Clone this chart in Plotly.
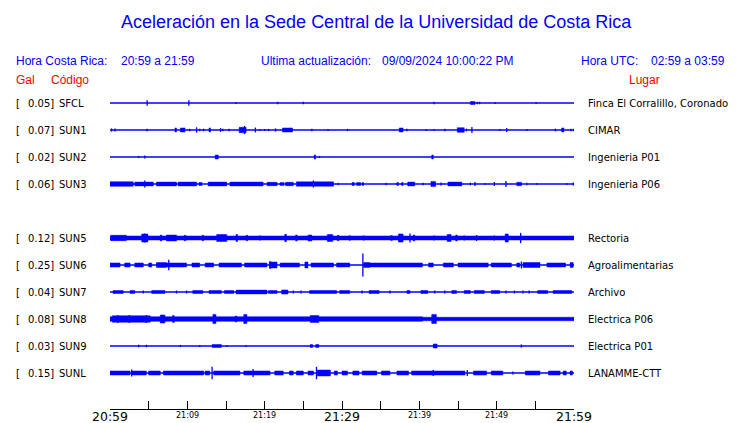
import plotly.graph_objects as go

# page body has an 8px margin; figure is sized to the visible area
OFF = 8
W, H = 740 - OFF, 423 - OFF

# ---------------- data ----------------
codes = ["SFCL", "SUN1", "SUN2", "SUN3", "SUN5", "SUN6", "SUN7", "SUN8", "SUN9", "SUNL"]
rows = [0, 1, 2, 3, 5, 6, 7, 8, 9, 10]
gal = ["0.05", "0.07", "0.02", "0.06", "0.12", "0.25", "0.04", "0.08", "0.03", "0.15"]
places = ["Finca El Corralillo, Coronado", "CIMAR", "Ingenieria P01", "Ingenieria P06",
          "Rectoria", "Agroalimentarias", "Archivo", "Electrica P06", "Electrica P01", "LANAMME-CTT"]

tick_minutes = [0, 5, 10, 15, 20, 25, 30, 35, 40, 45, 50, 55, 60]
label_minutes = [0, 10, 20, 30, 40, 50, 60]
label_texts = ["20:59", "21:09", "21:19", "21:29", "21:39", "21:49", "21:59"]
large_labels = ["20:59", "21:29", "21:59"]

# relative amplitudes (fraction of trace spacing); bands = (start min, end min, half-amp)
sfcl_bands = [(46.6, 47.2, 0.055)]
sfcl_spikes = [(4.8, 0.1), (10.2, 0.1), (16.3, 0.04), (21.7, 0.05), (25.0, 0.05), (41.9, 0.05),
               (47.5, 0.05), (47.8, 0.05), (49.8, 0.04), (55.1, 0.04)]

sun1_bands = [(8.4, 8.6, 0.075), (9.1, 9.7, 0.075), (12.8, 13.0, 0.075), (16.7, 17.6, 0.1),
              (22.3, 23.6, 0.075), (37.4, 37.9, 0.075), (44.9, 45.8, 0.085), (58.4, 58.7, 0.075)]
sun1_spikes = [(0.2, 0.06), (0.65, 0.06), (4.8, 0.05), (10.3, 0.05), (11.2, 0.1), (11.6, 0.05),
               (12.1, 0.05), (14.3, 0.07), (14.6, 0.05), (15.4, 0.05), (17.4, 0.15), (18.8, 0.09),
               (19.4, 0.04), (20.0, 0.04), (20.5, 0.04), (21.4, 0.06), (26.1, 0.05), (28.2, 0.04),
               (30.7, 0.04), (38.4, 0.05), (40.9, 0.04), (41.9, 0.04), (43.3, 0.05), (46.1, 0.05),
               (46.8, 0.11), (50.4, 0.04), (51.3, 0.07), (53.9, 0.04), (57.6, 0.05), (59.6, 0.05),
               (59.95, 0.05)]

sun2_bands = [(13.6, 14.0, 0.075), (26.4, 26.6, 0.075), (41.6, 41.8, 0.075)]
sun2_spikes = [(3.7, 0.04), (4.5, 0.055), (27.1, 0.04)]

sun3_bands = [(0, 3.0, 0.085), (3.2, 5.6, 0.07), (6.0, 8.6, 0.07), (8.8, 11.2, 0.07),
              (11.5, 11.9, 0.055), (12.7, 15.1, 0.07), (15.5, 19.8, 0.07), (20.3, 21.6, 0.065),
              (22.0, 22.5, 0.055), (22.7, 23.7, 0.065), (24.1, 28.9, 0.08), (31.3, 31.6, 0.055),
              (31.9, 32.4, 0.055), (32.6, 32.8, 0.055), (37.1, 37.3, 0.055), (37.7, 37.9, 0.055),
              (38.5, 39.4, 0.07), (41.5, 42.1, 0.095), (43.7, 45.5, 0.07), (52.6, 53.2, 0.065)]
sun3_spikes = [(4.5, 0.13), (26.3, 0.13), (29.5, 0.05), (35.7, 0.05), (40.5, 0.05), (42.8, 0.06),
               (46.6, 0.05), (47.2, 0.07), (48.5, 0.04), (49.7, 0.07), (51.2, 0.11), (53.9, 0.05),
               (55.2, 0.04), (59.1, 0.04), (59.9, 0.06)]

sun5_bands = [(0, 60, 0.075), (0.1, 2.1, 0.1), (4.1, 4.9, 0.15), (6.5, 6.7, 0.11), (7.3, 8.6, 0.11),
              (9.6, 9.8, 0.1), (11.9, 12.1, 0.1), (13.8, 15.1, 0.13), (16.3, 16.5, 0.13),
              (17.6, 17.8, 0.1), (22.6, 22.8, 0.13), (24.0, 24.2, 0.11), (25.6, 26.1, 0.11),
              (28.1, 28.8, 0.13), (29.4, 29.6, 0.1), (36.3, 36.5, 0.09), (37.3, 37.9, 0.15),
              (39.2, 39.4, 0.11), (43.6, 44.1, 0.13), (44.7, 44.9, 0.11), (51.1, 51.5, 0.15)]
sun5_spikes = [(4.5, 0.17), (38.8, 0.17), (53.1, 0.19), (31.0, 0.1), (32.8, 0.09), (19.4, 0.09),
               (41.9, 0.09), (45.8, 0.09), (47.4, 0.11), (49.7, 0.09), (22.7, 0.15)]

sun6_bands = [(0, 1.3, 0.075), (1.9, 2.6, 0.075), (3.2, 4.3, 0.075), (5.0, 5.4, 0.075),
              (6.0, 7.3, 0.09), (7.3, 9.9, 0.075), (10.6, 11.6, 0.075), (12.3, 13.4, 0.075),
              (14.1, 17.0, 0.075), (17.4, 20.3, 0.075), (20.6, 21.6, 0.11), (22.0, 24.5, 0.075),
              (25.2, 25.6, 0.11), (26.0, 28.9, 0.075), (29.3, 31.0, 0.075), (32.8, 33.6, 0.09),
              (33.6, 40.4, 0.075), (41.2, 41.8, 0.075), (43.1, 44.4, 0.075), (45.0, 48.9, 0.075),
              (49.3, 51.9, 0.075), (52.6, 53.0, 0.075), (53.4, 55.6, 0.09), (56.5, 58.9, 0.075),
              (59.5, 59.9, 0.09)]
sun6_spikes = [(7.6, 0.19), (20.7, 0.15), (32.7, 0.43), (53.2, 0.13)]

sun7_bands = [(0.4, 1.7, 0.055), (2.6, 3.2, 0.055), (5.4, 7.1, 0.055), (10.7, 12.0, 0.055),
              (12.8, 14.4, 0.055), (14.8, 16.0, 0.055), (16.3, 20.3, 0.07), (20.5, 21.6, 0.055),
              (22.2, 23.0, 0.075), (25.8, 29.3, 0.055), (29.7, 31.0, 0.055), (33.5, 34.8, 0.055),
              (38.4, 38.8, 0.055), (40.2, 41.1, 0.055), (44.2, 44.8, 0.055), (45.8, 46.6, 0.055),
              (47.1, 48.4, 0.055), (49.3, 50.4, 0.055), (55.3, 56.6, 0.055), (57.3, 59.7, 0.055)]
sun7_spikes = [(4.3, 0.055), (8.6, 0.055), (9.9, 0.055), (23.7, 0.055), (24.7, 0.055), (32.6, 0.055),
               (36.2, 0.055), (42.0, 0.055), (43.3, 0.055), (51.2, 0.055), (52.3, 0.055),
               (53.4, 0.055), (54.2, 0.055)]

sun8_bands = [(0, 40.4, 0.085), (40.4, 60, 0.065), (0.3, 5.2, 0.12), (6.5, 7.1, 0.15),
              (8.1, 8.3, 0.13), (13.3, 13.7, 0.17), (16.2, 16.4, 0.11), (17.3, 17.7, 0.17),
              (25.9, 27.0, 0.13), (41.6, 42.2, 0.17)]
sun8_spikes = [(1.0, 0.15), (2.5, 0.15), (4.7, 0.15)]

sun9_bands = [(13.2, 14.4, 0.055), (25.9, 26.2, 0.055), (26.6, 27.0, 0.055), (41.8, 42.3, 0.075)]
sun9_spikes = [(3.7, 0.05), (4.7, 0.05), (9.1, 0.04), (11.6, 0.04), (15.1, 0.04), (17.6, 0.04),
               (53.2, 0.06)]

sunl_bands = [(0, 2.6, 0.075), (2.8, 4.7, 0.075), (5.0, 6.5, 0.075), (6.9, 12.1, 0.075),
              (12.3, 12.9, 0.075), (13.4, 16.8, 0.075), (17.3, 20.7, 0.075), (21.3, 22.4, 0.075),
              (23.2, 23.7, 0.075), (24.1, 25.0, 0.075), (25.6, 26.3, 0.075), (26.8, 28.5, 0.11),
              (29.0, 29.4, 0.075), (30.0, 30.7, 0.075), (31.4, 32.2, 0.075), (32.6, 34.5, 0.075),
              (35.1, 36.2, 0.075), (37.1, 38.6, 0.075), (39.0, 45.9, 0.075), (47.0, 48.7, 0.075),
              (49.3, 50.8, 0.075), (53.7, 55.6, 0.075), (56.7, 58.2, 0.075), (58.6, 59.0, 0.075),
              (59.5, 59.8, 0.075)]
sunl_spikes = [(2.8, 0.13), (13.2, 0.23), (18.5, 0.15), (26.7, 0.23), (41.8, 0.11), (46.2, 0.11),
               (52.1, 0.055)]

all_bands = [sfcl_bands, sun1_bands, sun2_bands, sun3_bands, sun5_bands, sun6_bands,
             sun7_bands, sun8_bands, sun9_bands, sunl_bands]
all_spikes = [sfcl_spikes, sun1_spikes, sun2_spikes, sun3_spikes, sun5_spikes, sun6_spikes,
              sun7_spikes, sun8_spikes, sun9_spikes, sunl_spikes]


def px(X):
    return (X - OFF) / W


def py(Y):
    return (H - (Y - OFF)) / H


# ---------------- figure ----------------
BLUE = "#0000FF"
fig = go.Figure()

bx, by = [], []
for r in rows:
    bx += [0, 60, None]
    by += [r, r, None]
fig.add_trace(go.Scatter(x=bx, y=by, mode="lines", line=dict(color=BLUE, width=1.3),
                         hoverinfo="skip", showlegend=False))

fx, fy = [], []
for r, bands in zip(rows, all_bands):
    for a, b, h in bands:
        fx += [a, b, b, a, a, None]
        fy += [r - h, r - h, r + h, r + h, r - h, None]
fig.add_trace(go.Scatter(x=fx, y=fy, mode="lines", fill="toself", fillcolor=BLUE,
                         line=dict(color=BLUE, width=0.5), hoverinfo="skip", showlegend=False))

sx, sy = [], []
for r, spikes in zip(rows, all_spikes):
    for t, h in spikes:
        sx += [t, t, None]
        sy += [r - h, r + h, None]
fig.add_trace(go.Scatter(x=sx, y=sy, mode="lines", line=dict(color=BLUE, width=1.3),
                         hoverinfo="skip", showlegend=False))

ann = []
LBL = "DejaVu Sans"
LS = 10
for r, g, c, p in zip(rows, gal, codes, places):
    ann.append(dict(x=px(14), y=r, text="[", xref="paper", yref="y", showarrow=False,
                    xanchor="left", yanchor="middle", font=dict(family=LBL, size=LS, color="black")))
    ann.append(dict(x=px(56), y=r, text=g + "]", xref="paper", yref="y", showarrow=False,
                    xanchor="right", yanchor="middle", font=dict(family=LBL, size=LS, color="black")))
    ann.append(dict(x=px(57), y=r, text=c, xref="paper", yref="y", showarrow=False,
                    xanchor="left", yanchor="middle", font=dict(family=LBL, size=LS, color="black")))
    ann.append(dict(x=px(586), y=r, text=p, xref="paper", yref="y", showarrow=False,
                    xanchor="left", yanchor="middle", font=dict(family=LBL, size=LS, color="black")))

for m, t in zip(label_minutes, label_texts):
    big = t in large_labels
    ann.append(dict(x=m, y=py(416 if big else 415), text=t, xref="x", yref="paper",
                    showarrow=False, xanchor="center", yanchor="middle",
                    font=dict(family=LBL, size=12.5 if big else 8, color="black")))

HF = "Liberation Sans"


def head(x, y, text, color=BLUE, size=12, anchor="left"):
    ann.append(dict(x=px(x), y=py(y), text=text, xref="paper", yref="paper",
                    showarrow=False, xanchor=anchor, yanchor="middle",
                    font=dict(family=HF, size=size, color=color)))


head(377, 22, "Aceleración en la Sede Central de la Universidad de Costa Rica", size=18, anchor="center")
head(14, 61, "Hora Costa Rica:")
head(119, 61, "20:59 a 21:59")
head(259, 61, "Ultima actualización:")
head(380, 61, "09/09/2024 10:00:22 PM")
head(579, 61, "Hora UTC:")
head(649, 61, "02:59 a 03:59")
head(14, 80, "Gal", color="#FF0000")
head(49, 80, "Código", color="#FF0000")
head(627, 80, "Lugar", color="#FF0000")

y_top_px, y_bot_px, row0_px, spacing = 80, 409, 103, 27
fig.update_layout(
    width=W, height=H, margin=dict(l=0, r=0, t=0, b=0),
    paper_bgcolor="white", plot_bgcolor="white",
    annotations=ann,
    xaxis=dict(range=[0, 60], domain=[px(110), px(574)], showgrid=False, zeroline=False,
               showline=True, linecolor="black", linewidth=1, ticks="inside", ticklen=8,
               tickwidth=1, tickcolor="black", tickvals=tick_minutes, showticklabels=False,
               fixedrange=True),
    yaxis=dict(range=[(y_bot_px - row0_px) / spacing, (y_top_px - row0_px) / spacing],
               domain=[py(y_bot_px), py(y_top_px)], visible=False, fixedrange=True),
)
fig.write_html("out.html")
